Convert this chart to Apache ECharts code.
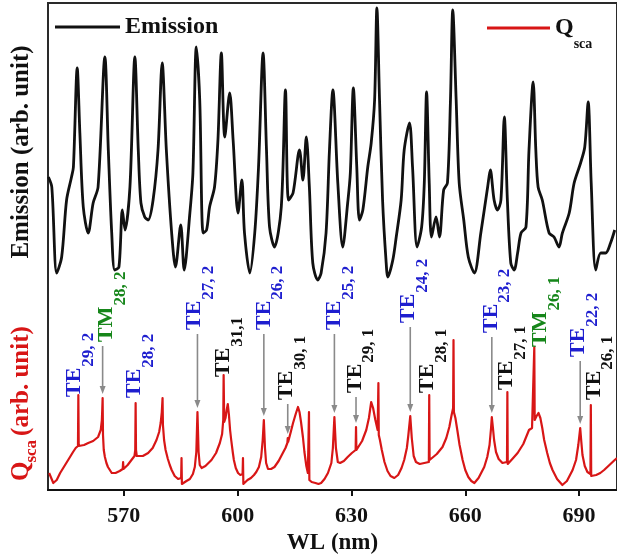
<!DOCTYPE html>
<html>
<head>
<meta charset="utf-8">
<title>Emission and Qsca</title>
<script src="https://cdn.jsdelivr.net/npm/echarts@6/dist/echarts.min.js"></script>
<style>
  html, body { margin: 0; padding: 0; background: #fff; }
  #chart { width: 617px; height: 560px; }
</style>
</head>
<body>
<div id="chart"></div>
<script>
// 发射谱 (nm, arb. unit)
const emWl = [550.1, 551.0, 552.3, 553.6, 554.9, 556.2, 556.7, 557.7, 558.4, 559.3, 560.6, 561.9, 563.2, 565.0, 565.9, 566.8, 567.6, 568.7, 569.6, 570.3,
  571.6, 572.9, 573.8, 574.5, 575.5, 576.4, 577.7, 579.0, 580.1, 581.2, 582.6, 583.6, 585.0, 585.9, 587.4, 588.2, 589.1, 590.0, 590.9, 591.8,
  592.6, 593.9, 594.8, 595.7, 596.6, 597.9, 598.8, 600.1, 601.1, 601.8, 603.2, 604.5, 605.5, 606.7, 607.6, 608.4, 609.7, 611.5, 612.6, 613.4,
  614.6, 616.3, 617.2, 618.1, 618.9, 619.8, 621.1, 622.0, 623.3, 624.2, 625.1, 626.4, 627.7, 629.0, 629.7, 630.5, 631.4, 632.1, 633.0, 634.3,
  635.2, 636.1, 636.7, 637.4, 638.2, 639.1, 639.6, 640.9, 641.8, 643.1, 643.9, 645.3, 646.1, 647.3, 648.5, 649.2, 649.8, 650.5, 651.1, 652.3,
  653.2, 654.3, 655.3, 656.1, 656.7, 657.6, 658.4, 659.6, 660.8, 662.4, 664.1, 665.9, 666.6, 667.6, 668.5, 669.4, 670.3, 671.1, 672.0, 672.9,
  673.8, 674.7, 676.0, 676.8, 677.9, 678.6, 679.2, 680.3, 682.1, 683.4, 684.7, 685.6, 687.4, 688.7, 690.4, 691.5, 692.4, 693.2, 694.4, 695.7,
  697.0, 698.3, 699.4];
const emVal = [313, 303, 217, 233, 290, 313, 323, 422, 357, 283, 257, 287, 303, 433, 340, 257, 220, 223, 280, 260,
  303, 433, 340, 287, 273, 270, 290, 340, 427, 340, 257, 223, 265, 220, 277, 317, 443, 390, 257, 260,
  283, 303, 350, 437, 353, 397, 350, 277, 310, 257, 217, 257, 323, 437, 340, 263, 243, 283, 400, 290,
  297, 340, 310, 353, 303, 227, 210, 217, 257, 340, 400, 307, 243, 287, 317, 402, 323, 270, 280, 323,
  347, 390, 482, 390, 290, 230, 213, 230, 253, 290, 340, 367, 323, 243, 263, 307, 398, 307, 253, 273,
  253, 300, 307, 390, 480, 390, 307, 270, 233, 217, 257, 303, 320, 290, 280, 290, 373, 290, 227, 220,
  237, 257, 263, 340, 408, 340, 303, 290, 257, 253, 243, 257, 277, 307, 327, 343, 388, 307, 220, 237,
  237, 247, 260];

// 散射效率 Q_sca
const qWl = [550.3, 551.4, 552.3, 553.2, 554.5, 555.8, 556.6, 557.3, 557.9, 558.0,
  558.1, 558.4, 559.5, 560.6, 561.9, 563.2, 563.9, 564.2, 564.3, 564.4,
  564.5, 564.7, 565.0, 565.4, 565.8, 566.3, 566.8, 567.8, 568.9, 569.7,
  569.8, 569.9, 571.0, 572.0, 572.8, 573.0, 573.1, 573.2, 573.4, 573.8,
  575.0, 576.4, 577.6, 578.6, 579.3, 579.7, 580.0, 580.2, 580.3, 580.6,
  581.0, 581.6, 582.1, 582.6, 583.4, 584.3, 585.1, 585.2, 585.3, 585.6,
  586.5, 587.4, 588.2, 588.7, 589.1, 589.4, 589.7, 590.0, 590.5, 591.5,
  593.1, 594.3, 595.3, 595.9, 596.2, 596.3, 596.45, 596.8, 597.1, 597.4,
  597.7, 598.0, 598.3, 598.7, 599.0, 599.5, 600.1, 600.7, 601.3, 601.4,
  601.5, 601.8, 602.6, 603.5, 604.3, 604.9, 605.6, 606.2, 606.6, 606.9,
  607.2, 607.5, 608.0, 608.8, 609.7, 610.8, 611.9, 612.6, 613.1, 613.2,
  613.3, 614.0, 614.6, 615.3, 615.9, 616.3, 616.7, 617.2, 617.6, 618.1,
  618.5, 618.7, 618.8, 618.9, 619.5, 620.5, 621.3, 622.0, 622.9, 623.8,
  624.7, 625.1, 625.5, 625.9, 626.4, 627.0, 628.0, 629.0, 630.1, 631.1,
  631.2, 631.3, 631.7, 632.8, 633.9, 634.6, 635.2, 635.7, 636.3, 636.9,
  637.0, 637.1, 637.2, 637.5, 638.0, 638.7, 639.5, 640.3, 641.3, 642.3,
  643.2, 643.9, 644.6, 645.0, 645.5, 645.9, 646.4, 647.0, 648.0, 649.2,
  650.4, 650.5, 650.6, 651.0, 652.5, 654.0, 655.0, 655.8, 656.4, 656.8,
  656.9, 657.0, 657.4, 657.9, 658.5, 659.3, 660.0, 660.8, 661.6, 662.4,
  663.5, 665.0, 665.8, 666.4, 666.8, 667.0, 667.3, 667.6, 668.1, 668.8,
  669.8, 671.0, 671.1, 671.2, 672.4, 673.8, 675.3, 676.8, 677.6, 678.1,
  678.2, 678.3, 678.8, 679.3, 679.8, 680.3, 680.8, 681.6, 682.3, 683.0,
  684.2, 685.6, 686.8, 688.3, 689.2, 689.8, 690.3, 690.6, 690.9, 691.5,
  692.2, 693.0, 693.1, 693.2, 694.5, 695.6, 696.6, 698.0, 699.4, 700.0];
const qVal = [17, 7, 10, 17, 25, 33, 38, 42, 44, 95,
  44, 43, 45, 47, 49, 53, 60, 70, 80, 92,
  55, 40, 33, 27, 23, 20, 17, 17, 19, 21,
  28, 21, 25, 30, 34, 40, 87, 40, 34, 32,
  34, 37, 42, 50, 58, 67, 78, 92, 65, 50,
  40, 31, 25, 20, 14, 11, 12, 32, 6, 8,
  9, 11, 16, 23, 38, 78, 38, 25, 22, 24,
  30, 37, 47, 56, 70, 115, 68, 72, 80, 86,
  75, 60, 50, 38, 30, 22, 17, 15, 16, 32,
  6, 8, 10, 12, 15, 18, 23, 33, 50, 70,
  42, 27, 21, 21, 23, 29, 37, 42, 47, 52,
  48, 58, 67, 76, 83, 78, 68, 53, 38, 24,
  17, 15, 78, 10, 8, 7, 6, 7, 11, 17,
  27, 42, 73, 42, 28, 27, 29, 33, 37, 40,
  63, 40, 41, 49, 60, 72, 88, 82, 70, 60,
  58, 107, 55, 50, 40, 28, 19, 14, 12, 15,
  22, 30, 42, 55, 74, 52, 34, 28, 26, 27,
  28, 95, 30, 31, 36, 43, 52, 63, 75, 82,
  150, 78, 72, 60, 45, 30, 20, 13, 9, 7,
  12, 23, 33, 45, 62, 73, 62, 50, 38, 31,
  27, 28, 98, 26, 31, 37, 46, 60, 62, 64,
  143, 70, 74, 77, 72, 62, 50, 37, 27, 20,
  11, 5, 9, 20, 30, 45, 62, 48, 35, 24,
  18, 16, 85, 14, 15, 17, 20, 25, 30, 32];

// 模式标注
const modeWl = [558.0, 564.4, 573.1, 589.4, 596.3, 606.9, 613.2, 625.5, 631.2, 645.5, 650.5, 667.0, 671.1, 678.2, 690.3, 693.1];
const modeName = ['TE', 'TM', 'TE', 'TE', 'TE', 'TE', 'TE', 'TE', 'TE', 'TE', 'TE', 'TE', 'TE', 'TM', 'TE', 'TE'];
const modeSub = ['29, 2', '28, 2', '28, 2', '27, 2', '31,1', '26, 2', '30, 1', '25, 2', '29, 1', '24, 2', '28, 1', '23, 2', '27, 1', '26, 1', '22, 2', '26, 1'];

const xTicks = [570, 600, 630, 660, 690];

// 标注位置 (px)
const labelGap = [-2, 56, 5, 82, -2, 90, 38, 87, 34, 93, 2, 84, 2, 0, 71, 5];
const labelDx = [-4, 4, -1, -3, 0, 0, -1, 0, -1, -2, -2, -1, -1, 6, -2, 3];

const SERIF = '"Liberation Serif", "DejaVu Serif", serif';
const RED = '#d81616';
const mainFont = 'bold 22px ' + SERIF;
const subFont = 'bold 17px ' + SERIF;

const measureCtx = document.createElement('canvas').getContext('2d');
function textWidth(str, font) {
  measureCtx.font = font;
  return measureCtx.measureText(str).width;
}

function modeColor(i) {
  if (modeName[i] === 'TM') return '#16861a';
  if (/,\s*2$/.test(modeSub[i])) return '#1e1ecf';
  return '#111111';
}

// 取标注附近的Q峰值
function peakNear(wl) {
  let best = 0;
  qWl.forEach((w, k) => {
    if (Math.abs(w - wl) <= 0.35 && qVal[k] > best) best = qVal[k];
  });
  return best;
}

function renderMode(params, api) {
  const i = params.dataIndex;
  const pt = api.coord([api.value(0), api.value(1)]);
  const x = pt[0] + labelDx[i];
  const yBottom = pt[1] - labelGap[i];
  const color = modeColor(i);
  const mainW = textWidth(modeName[i], mainFont);
  const children = [
    {
      type: 'text', x: x, y: yBottom, rotation: Math.PI / 2,
      style: { text: modeName[i], x: 0, y: 0, font: mainFont, fill: color, align: 'left', verticalAlign: 'middle' }
    },
    {
      type: 'text', x: x, y: yBottom, rotation: Math.PI / 2,
      style: { text: modeSub[i], x: mainW + 1, y: 14, font: subFont, fill: color, align: 'left', verticalAlign: 'middle' }
    }
  ];
  if (labelGap[i] > 20) {
    const ax = pt[0];
    const tip = pt[1] - 4;
    children.push({
      type: 'line',
      shape: { x1: ax, y1: yBottom + 4, x2: ax, y2: tip - 5 },
      style: { stroke: '#8a8a8a', lineWidth: 1.6 }
    });
    children.push({
      type: 'polygon',
      shape: { points: [[ax - 3, tip - 8], [ax + 3, tip - 8], [ax, tip]] },
      style: { fill: '#8a8a8a' }
    });
  }
  return { type: 'group', children: children };
}

const emData = emWl.map((w, i) => [w, emVal[i]]);
const qData = qWl.map((w, i) => [w, qVal[i]]);
const modeData = modeWl.map(w => [w, peakNear(w)]);

const wQ = textWidth('Q', 'bold 25px ' + SERIF);
const wSca = textWidth('sca', 'bold 17px ' + SERIF);

const chart = echarts.init(document.getElementById('chart'));
const option = {
  backgroundColor: '#fff',
  animation: false,
  grid: { left: 48, width: 571, top: 3, bottom: 70, show: true, borderColor: '#2a2a2a', borderWidth: 2 },
  xAxis: {
    type: 'value',
    min: 550,
    max: 700,
    name: 'WL (nm)',
    nameLocation: 'middle',
    nameGap: 41,
    nameTextStyle: { fontFamily: SERIF, fontWeight: 'bold', fontSize: 23, color: '#111' },
    axisLine: { show: true, lineStyle: { color: '#111', width: 2 } },
    axisTick: { show: true, length: 6, customValues: xTicks, lineStyle: { color: '#111', width: 2 } },
    axisLabel: { customValues: xTicks, margin: 15, fontFamily: SERIF, fontWeight: 'bold', fontSize: 22, color: '#111' },
    splitLine: { show: false }
  },
  yAxis: {
    type: 'value',
    min: 0,
    max: 487,
    axisLine: { show: false },
    axisTick: { show: false },
    axisLabel: { show: false },
    splitLine: { show: false }
  },
  legend: [
    {
      data: ['Emission'],
      left: 55,
      top: 15,
      padding: 0,
      icon: 'rect',
      itemWidth: 65,
      itemHeight: 3,
      textStyle: { fontFamily: SERIF, fontWeight: 'bold', fontSize: 24, color: '#111' }
    },
    {
      data: ['Qsca'],
      left: 487,
      top: 16,
      padding: 0,
      icon: 'rect',
      itemWidth: 63,
      itemHeight: 3,
      formatter: () => '{q|Q}{s|sca}',
      textStyle: {
        rich: {
          q: { fontFamily: SERIF, fontWeight: 'bold', fontSize: 24, color: '#111' },
          s: { fontFamily: SERIF, fontWeight: 'bold', fontSize: 14, color: '#111', padding: [32, 0, 0, 0], verticalAlign: 'bottom' }
        }
      }
    }
  ],
  graphic: [
    {
      type: 'text', x: 22, y: 152, rotation: Math.PI / 2,
      style: { text: 'Emission (arb. unit)', font: 'bold 25px ' + SERIF, fill: '#111', align: 'center', verticalAlign: 'middle' }
    },
    {
      type: 'group', x: 22, y: 481, rotation: Math.PI / 2,
      children: [
        { type: 'text', style: { text: 'Q', x: 0, y: 0, font: 'bold 25px ' + SERIF, fill: RED, align: 'left', verticalAlign: 'middle' } },
        { type: 'text', style: { text: 'sca', x: wQ - 1, y: 10, font: 'bold 17px ' + SERIF, fill: RED, align: 'left', verticalAlign: 'middle' } },
        { type: 'text', style: { text: '(arb. unit)', x: wQ + wSca + 3, y: 0, font: 'bold 25px ' + SERIF, fill: RED, align: 'left', verticalAlign: 'middle' } }
      ]
    }
  ],
  series: [
    {
      name: 'Emission',
      type: 'line',
      data: emData,
      showSymbol: false,
      smooth: 0.3,
      color: '#111',
      lineStyle: { color: '#111', width: 2.8 },
      z: 3
    },
    {
      name: 'Qsca',
      type: 'line',
      data: qData,
      showSymbol: false,
      color: RED,
      lineStyle: { color: RED, width: 2.2, join: 'round' },
      z: 3
    },
    {
      name: 'modes',
      type: 'custom',
      data: modeData,
      renderItem: renderMode,
      silent: true,
      z: 4
    }
  ]
};
chart.setOption(option);
</script>
</body>
</html>
